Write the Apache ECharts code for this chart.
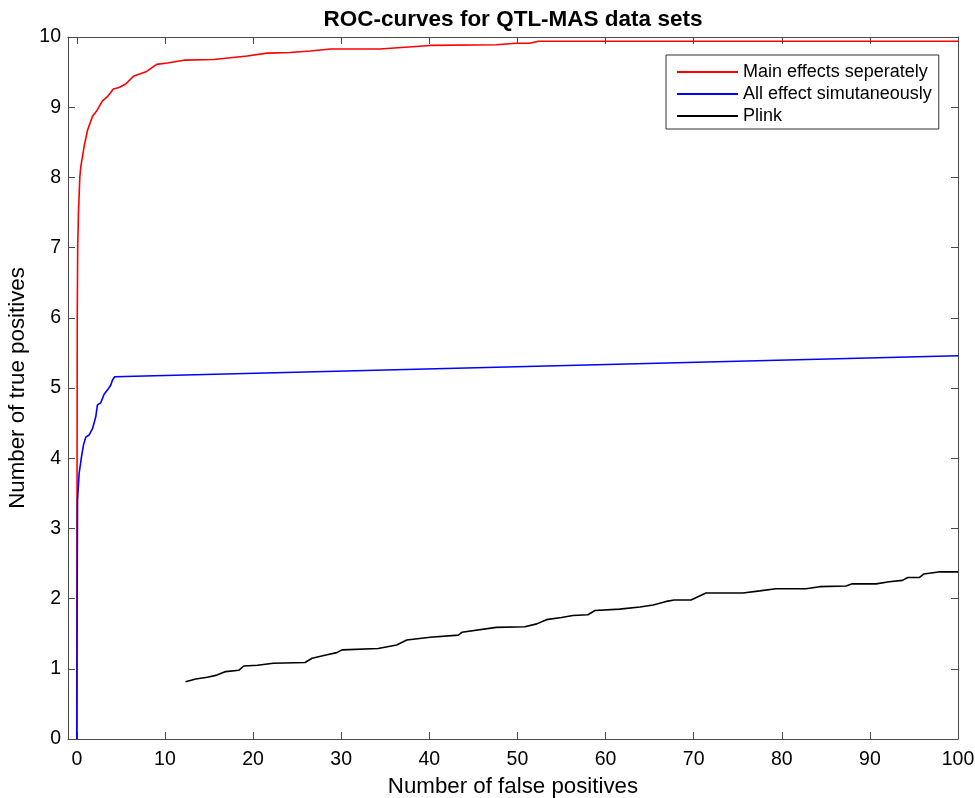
<!DOCTYPE html>
<html>
<head>
<meta charset="utf-8">
<script src="https://cdn.jsdelivr.net/npm/echarts@6/dist/echarts.min.js"></script>
<style>html,body{margin:0;padding:0;background:#fff}#c{width:975px;height:798px}</style>
</head>
<body>
<div id="c"></div>
<script>
const xTicks = [0,10,20,30,40,50,60,70,80,90,100];
const yTicks = [0,1,2,3,4,5,6,7,8,9,10];
const seriesNames = ['Main effects seperately','All effect simutaneously','Plink'];

const redX = [0,0.02,0.05,0.1,0.19,0.26,0.34,0.45,0.83,1.21,1.78,2.27,2.91,3.47,4.15,4.8,5.55,6.42,7.93,9.06,10.27,12.15,15.55,19.33,21.6,24.2,26.5,28.8,34.4,40.1,47.6,49.9,51.4,52.4,100];
const redY = [0,3,6,7,7.51,7.73,8.0,8.15,8.44,8.67,8.87,8.95,9.09,9.15,9.26,9.28,9.33,9.44,9.51,9.61,9.63,9.67,9.68,9.73,9.77,9.78,9.80,9.83,9.83,9.88,9.89,9.91,9.91,9.94,9.94];

const blueX = [0,0.04,0.08,0.26,0.53,0.76,1.02,1.39,1.78,1.96,2.15,2.34,2.72,3.1,3.47,3.85,4.04,4.3,4.5,100];
const blueY = [0,2.0,3.40,3.78,4.02,4.19,4.30,4.33,4.42,4.44,4.59,4.76,4.79,4.91,4.97,5.04,5.11,5.16,5.175,5.46];

const blackX = [12.34,13.5,14.8,15.9,16.9,18.4,18.95,20.5,22.3,25.9,26.7,28.4,29.5,30.1,34.2,36.3,37.45,40.1,43.3,43.7,47.6,50.85,52.2,53.3,55.0,56.3,58.0,58.8,61.6,63.9,65.4,66.9,67.8,69.7,71.4,75.6,77.5,79.35,82.75,84.3,87.3,88.0,90.7,92.2,93.7,94.3,95.6,96.1,97.8,100];
const blackY = [0.816,0.855,0.88,0.91,0.96,0.98,1.04,1.05,1.08,1.09,1.15,1.20,1.23,1.27,1.29,1.34,1.41,1.45,1.48,1.52,1.59,1.60,1.64,1.70,1.73,1.76,1.77,1.83,1.85,1.88,1.91,1.96,1.98,1.98,2.08,2.08,2.11,2.14,2.14,2.17,2.18,2.21,2.21,2.24,2.26,2.30,2.30,2.35,2.38,2.38];

const zip = (xs, ys) => xs.map((x, i) => [x, ys[i]]);
const FONT = 'Liberation Sans, Arial, sans-serif';
const AX = '#4a4a4a';

const chart = echarts.init(document.getElementById('c'), null, {renderer: 'canvas'});
const baseX = {
  type: 'value', min: -1, max: 100,
  axisLine: {show: true, onZero: false, lineStyle: {color: AX, width: 1}},
  axisTick: {show: true, inside: true, length: 7, customValues: xTicks, lineStyle: {color: AX}},
  splitLine: {show: false}
};
const baseY = {
  type: 'value', min: 0, max: 10, interval: 1,
  axisLine: {show: true, onZero: false, lineStyle: {color: AX, width: 1}},
  axisTick: {show: true, inside: true, length: 7, lineStyle: {color: AX}},
  splitLine: {show: false}
};
chart.setOption({
  animation: false,
  backgroundColor: '#fff',
  title: {
    text: 'ROC-curves for QTL-MAS data sets',
    left: 508, top: 3, textAlign: 'center',
    textStyle: {fontFamily: FONT, fontSize: 22.5, fontWeight: 'bold', color: '#000'}
  },
  grid: {left: 68, right: 17, top: 37, bottom: 59, containLabel: false, outerBoundsMode: 'none'},
  legend: {
    orient: 'vertical', left: 666, top: 55,
    data: seriesNames,
    icon: 'rect', itemWidth: 61, itemHeight: 2, itemGap: 0,
    padding: [6, 7, 2, 11],
    backgroundColor: '#fff', borderColor: '#333', borderWidth: 1,
    textStyle: {fontFamily: FONT, fontSize: 18, color: '#000', lineHeight: 22}
  },
  xAxis: [
    Object.assign({}, baseX, {
      position: 'bottom',
      name: 'Number of false positives', nameLocation: 'middle', nameGap: 37,
      nameTextStyle: {fontFamily: FONT, fontSize: 22.3, color: '#000'},
      axisLabel: {show: true, customValues: xTicks, margin: 11, fontFamily: FONT, fontSize: 19.5, color: '#000'}
    }),
    Object.assign({}, baseX, {position: 'top', axisLabel: {show: false}})
  ],
  yAxis: [
    Object.assign({}, baseY, {
      position: 'left',
      name: 'Number of true positives', nameLocation: 'middle', nameGap: 35,
      nameTextStyle: {fontFamily: FONT, fontSize: 22.3, color: '#000'},
      axisLabel: {show: true, margin: 7, fontFamily: FONT, fontSize: 19.5, color: '#000'}
    }),
    Object.assign({}, baseY, {position: 'right', axisLabel: {show: false}})
  ],
  series: [
    {name: seriesNames[0], type: 'line', data: zip(redX, redY), showSymbol: false, symbol: 'none',
     lineStyle: {color: '#ff0000', width: 1.6}, itemStyle: {color: '#ff0000'}},
    {name: seriesNames[1], type: 'line', data: zip(blueX, blueY), showSymbol: false, symbol: 'none',
     lineStyle: {color: '#0000ff', width: 1.6}, itemStyle: {color: '#0000ff'}},
    {name: seriesNames[2], type: 'line', data: zip(blackX, blackY), showSymbol: false, symbol: 'none',
     lineStyle: {color: '#000000', width: 1.6}, itemStyle: {color: '#000000'}}
  ]
});
</script>
</body>
</html>
